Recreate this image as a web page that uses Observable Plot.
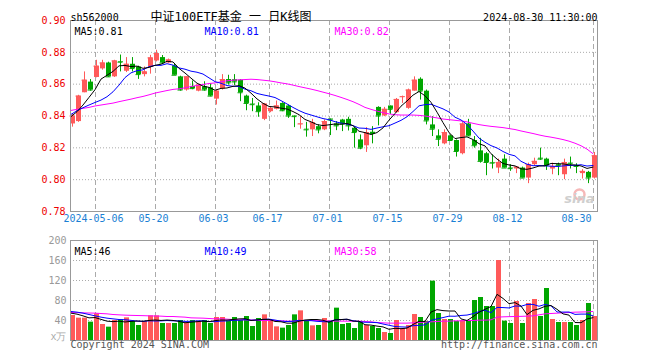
<!DOCTYPE html>
<html><head><meta charset="utf-8">
<script src="https://cdn.jsdelivr.net/npm/d3@7"></script>
<script src="https://cdn.jsdelivr.net/npm/@observablehq/plot@0.6"></script>
<style>
body{margin:0;background:#fff;}
#wrap{position:relative;width:660px;height:360px;overflow:hidden;background:#fff;}
#wrap svg{position:absolute;left:0;}
</style></head><body><div id="wrap"></div>
<script>
const dates = ["04-25","04-26","04-29","04-30",
"05-06","05-07","05-08","05-09","05-10","05-13","05-14","05-15","05-16","05-17",
"05-20","05-21","05-22","05-23","05-24","05-27","05-28","05-29","05-30","05-31",
"06-03","06-04","06-05","06-06","06-07","06-11","06-12","06-13","06-14",
"06-17","06-18","06-19","06-20","06-21","06-24","06-25","06-26","06-27","06-28",
"07-01","07-02","07-03","07-04","07-05","07-08","07-09","07-10","07-11","07-12",
"07-15","07-16","07-17","07-18","07-19","07-22","07-23","07-24","07-25","07-26",
"07-29","07-30","07-31","08-01","08-02","08-05","08-06","08-07","08-08","08-09",
"08-12","08-13","08-14","08-15","08-16","08-19","08-20","08-21","08-22","08-23",
"08-26","08-27","08-28","08-29","08-30"];
const open = [0.835,0.8365,0.8546,0.8613,0.8642,0.8696,0.8733,0.8646,0.8742,0.8681,
0.8725,0.8708,0.866,0.8706,0.8746,0.8767,0.8733,0.8715,0.8646,0.8563,
0.8586,0.8556,0.8583,0.8577,0.8506,0.8569,0.8629,0.8628,0.8625,0.8525,
0.8475,0.8463,0.8379,0.8427,0.8442,0.8479,0.8463,0.84,0.8346,0.8317,
0.8313,0.8333,0.8313,0.8381,0.835,0.8375,0.8379,0.8323,0.825,0.8213,
0.8298,0.8454,0.84,0.8463,0.8421,0.8517,0.8448,0.8556,0.8631,0.8556,
0.8344,0.8275,0.8225,0.8275,0.8246,0.8163,0.835,0.8246,0.8181,0.8163,
0.8108,0.8073,0.8129,0.8073,0.8067,0.8073,0.801,0.8094,0.8135,0.8129,
0.8067,0.8094,0.8031,0.8104,0.8088,0.8038,0.8046,0.801];
const high = [0.841,0.853,0.8677,0.8629,0.875,0.875,0.8738,0.875,0.8783,0.8767,
0.8767,0.8713,0.8708,0.8781,0.8813,0.878,0.8758,0.873,0.865,0.8646,
0.862,0.8598,0.8615,0.8604,0.8563,0.866,0.8656,0.866,0.8629,0.8531,
0.851,0.8483,0.8479,0.8454,0.8494,0.8483,0.8469,0.84,0.8396,0.836,
0.8379,0.8344,0.8375,0.8381,0.8365,0.8379,0.8392,0.8329,0.8281,0.8327,
0.8333,0.8458,0.8454,0.8463,0.851,0.8525,0.8569,0.8646,0.864,0.8563,
0.8396,0.8313,0.8313,0.8281,0.825,0.8358,0.8379,0.8271,0.826,0.8171,
0.8156,0.8129,0.8156,0.8094,0.8083,0.8079,0.8104,0.8135,0.8198,0.8135,
0.8104,0.8104,0.8129,0.8142,0.81,0.8063,0.8052,0.8171];
const low = [0.833,0.836,0.8546,0.8556,0.864,0.8688,0.8642,0.8642,0.8677,0.8673,
0.8677,0.863,0.8646,0.8663,0.874,0.8723,0.8729,0.8656,0.8556,0.8556,
0.8565,0.8552,0.8556,0.8521,0.8469,0.8563,0.8594,0.8592,0.849,0.8433,
0.8427,0.8392,0.8371,0.8421,0.8438,0.8427,0.8385,0.8327,0.8317,0.8267,
0.8271,0.8288,0.8308,0.8277,0.8308,0.8302,0.8306,0.8198,0.8188,0.8171,
0.8225,0.8338,0.8396,0.841,0.8417,0.8479,0.8442,0.8556,0.85,0.8344,
0.8271,0.8208,0.8219,0.824,0.8142,0.8156,0.8271,0.8198,0.8104,0.8025,
0.8067,0.8038,0.8073,0.8052,0.8038,0.801,0.7975,0.8083,0.8121,0.8058,
0.8031,0.8025,0.80,0.8067,0.8038,0.8004,0.7975,0.8004];
const close = [0.840,0.8525,0.8625,0.8563,0.8713,0.8733,0.8646,0.8746,0.8738,0.8725,
0.8698,0.866,0.8677,0.8765,0.8792,0.8733,0.8752,0.8656,0.8563,0.8646,
0.8572,0.8594,0.8563,0.8525,0.8556,0.8629,0.8608,0.8614,0.8546,0.8479,
0.8471,0.8427,0.8475,0.8448,0.8463,0.8433,0.84,0.8396,0.835,0.8313,
0.8358,0.8313,0.8365,0.8375,0.8338,0.835,0.8338,0.8296,0.8198,0.8296,
0.829,0.84,0.8442,0.8442,0.8504,0.8521,0.8563,0.8625,0.8556,0.8369,
0.8317,0.8254,0.8296,0.8246,0.8177,0.835,0.8275,0.8213,0.8115,0.8108,
0.8104,0.8108,0.8073,0.8069,0.8079,0.801,0.8094,0.8115,0.8129,0.8088,
0.8083,0.8088,0.8108,0.81,0.8083,0.8052,0.801,0.815];
const volume = [50,44.7,44.7,36.7,53.3,32,26.7,40,41.3,45.3,
38,30,38,49.3,49.3,34,34,34,40,35.3,
40,38.7,40,34,46,46,38,46,40,48,
28,44,51.3,40,27.3,24.7,30,51.3,59.3,40,
29.3,30,44,38.7,64.7,32,34,24,38,30,
28,24,16,14,40,24,30,52,46,38,
118.7,54,42,42,38,40,38,80,86,68,
68,160,38.7,34,78,34,74,82,48,104,
42,36,36,36,30,40,74,48];
// leading moving-average values (window not yet full)
const ma5Lead = [0.8396,0.8427,0.8469,0.8517];
const ma10Lead = [0.8410,0.8433,0.8452,0.8469,0.8485,0.8500,0.8521,0.8552,0.8594];
const ma30 = [0.8435,0.8442,0.8448,0.8454,0.8463,0.8469,0.8475,0.8481,0.8490,0.8498,
0.8506,0.8515,0.8523,0.8533,0.8544,0.8552,0.8560,0.8567,0.8571,0.8577,
0.8585,0.8592,0.8598,0.8604,0.8608,0.8615,0.8621,0.8625,0.8627,0.8629,
0.8631,0.8629,0.8625,0.8621,0.8615,0.8608,0.8602,0.8594,0.8585,0.8577,
0.8569,0.8560,0.8550,0.8540,0.8529,0.8517,0.8504,0.8490,0.8473,0.8454,
0.8442,0.8431,0.8421,0.8413,0.8408,0.8406,0.8406,0.8406,0.8404,
0.8400,0.8394,0.8388,0.8381,0.8377,0.8373,0.8369,0.8363,0.8354,0.8346,
0.8340,0.8335,0.8331,0.8327,0.8321,0.8315,0.8306,0.8298,0.8290,0.8281,
0.8273,0.8267,0.8260,0.8252,0.8242,0.8229,0.8213,0.8192,0.8163];
const vma5Lead = [54.7,52.7,49.3,45.3];
const vma10Lead = [58,56.7,54.7,52,49.3,46.7,44.7,43.3,42];
const vma30 = [56,55.7,55.3,55,54.7,54,53.3,52,51.3,50.7,
50.3,50,49.7,49.3,49,48.7,48,48,47.3,46.7,
45.3,45,44.7,44,43.3,43.3,42.7,42,41.3,41.3,
41,40.7,40,40,40,39.3,38.7,38.7,39.3,40,
40,40,39.7,39.3,38.7,38.7,38.7,38.7,38.7,38,
37.3,36,35.3,34.7,34.7,34.7,34.7,35.3,36,36.7,
37.3,38,38.7,38.7,39.3,39.3,40,40,40.7,40.7,
41.3,46.7,47.3,47.7,48,48.3,48.7,49.3,51.3,53.3,
54,54.7,55.3,56,56.7,57,57.3,58];
const priceTicks = [0.90,0.88,0.86,0.84,0.82,0.80,0.78];
const volTicks = [200,160,120,80,40];
const dateTicks = ["05-06","05-20","06-03","06-17","07-01","07-15","07-29","08-12","08-30"];
const dateTickLabels = ["2024-05-06","05-20","06-03","06-17","07-01","07-15","07-29","08-12","08-30"];
const code = "sh562000";
const title = "中证100ETF基金 一 日K线图";
const stamp = "2024-08-30 11:30:00";
const volUnit = "x万";
const copyright = "Copyright 2024 SINA.COM";
const url = "http://finance.sina.com.cn";

const UP = "#ff5a5a", DOWN = "#00a600";
const MONO = "DejaVu Sans Mono";
const GRID = "#aaaaaa";

function movingAvg(vals, n, lead) {
  return vals.map((v, i) => i < n - 1 ? lead[i] : d3.mean(vals.slice(i - n + 1, i + 1)));
}
const ma5 = movingAvg(close, 5, ma5Lead);
const ma10 = movingAvg(close, 10, ma10Lead);
const vma5 = movingAvg(volume, 5, vma5Lead);
const vma10 = movingAvg(volume, 10, vma10Lead);

const rows = dates.map((d, i) => ({
  date: d, open: open[i], high: high[i], low: low[i], close: close[i], vol: volume[i],
  color: close[i] >= open[i] ? UP : DOWN,
  ma5: ma5[i], ma10: ma10[i], ma30: ma30[i],
  vma5: vma5[i], vma10: vma10[i], vma30: vma30[i]
}));
const last = rows[rows.length - 1];
const tickRows = dateTicks.map((d, i) => ({date: d, label: dateTickLabels[i]}));

const xScale = {type: "band", domain: dates, range: [70, 598], paddingInner: 1/6, paddingOuter: 0, align: 0, axis: null};
const svgStyle = {fontFamily: MONO, fontSize: "10px", background: "transparent", overflow: "visible"};

const pricePlot = Plot.plot({
  width: 660, height: 230,
  marginLeft: 70, marginRight: 63, marginTop: 20, marginBottom: 19,
  style: svgStyle,
  x: xScale,
  y: {domain: [0.78, 0.90], axis: null},
  marks: [
    Plot.ruleY(priceTicks.slice(1, -1), {stroke: GRID, strokeDasharray: "1,2"}),
    Plot.ruleX(dateTicks, {x: d => d, stroke: GRID, strokeDasharray: "5,3", dx: -1.5}),
    Plot.ruleX(rows, {x: "date", y1: "low", y2: "high", stroke: "color", dx: -0.5}),
    Plot.barY(rows, {x: "date", y1: d => Math.min(d.open, d.close), y2: d => Math.max(d.open, d.close), fill: "color"}),
    Plot.tickY(rows, {x: "date", y: "close", stroke: "color", dx: -0.5}),
    Plot.line(rows, {x: "date", y: "ma30", stroke: "#ff00ff", strokeWidth: 1, dx: -2}),
    Plot.line(rows, {x: "date", y: "ma10", stroke: "#0000ff", strokeWidth: 1, dx: -2}),
    Plot.line(rows, {x: "date", y: "ma5", stroke: "#000000", strokeWidth: 1, dx: -2}),
    Plot.frame({stroke: "#999"}),
    Plot.text(priceTicks, {y: d => d, text: d => d.toFixed(2), frameAnchor: "left", textAnchor: "end", dx: -5, fill: "#ee0000", fontFamily: MONO, fontSize: 10}),
    Plot.text(tickRows.slice(0, -1), {x: "date", text: "label", frameAnchor: "bottom", dy: 10, dx: -3.5, fill: "#1a7fd4", fontFamily: MONO, fontSize: 10}),
    Plot.text(tickRows.slice(-1), {x: "date", text: "label", frameAnchor: "bottom", dy: 10, dx: -3.5, textAnchor: "end", fill: "#1a7fd4", fontFamily: MONO, fontSize: 10}),
    Plot.text([`MA5:${last.ma5.toFixed(2)}`], {frameAnchor: "top-left", dx: 4, dy: 7, textAnchor: "start", fill: "#000", fontFamily: MONO, fontSize: 10}),
    Plot.text([`MA10:${last.ma10.toFixed(2)}`], {frameAnchor: "top-left", dx: 134, dy: 7, textAnchor: "start", fill: "#0000ff", fontFamily: MONO, fontSize: 10}),
    Plot.text([`MA30:${last.ma30.toFixed(2)}`], {frameAnchor: "top-left", dx: 264, dy: 7, textAnchor: "start", fill: "#ff00ff", fontFamily: MONO, fontSize: 10}),
    Plot.text([code], {frameAnchor: "top-left", dy: -7, textAnchor: "start", fill: "#000", fontFamily: MONO, fontSize: 10}),
    Plot.text([title], {frameAnchor: "top-left", dx: 80, dy: -8, textAnchor: "start", fill: "#000", fontFamily: `${MONO}, Noto Sans CJK SC`, fontSize: 12}),
    Plot.text([stamp], {frameAnchor: "top-right", dy: -7, textAnchor: "end", fill: "#000", fontFamily: MONO, fontSize: 10}),
    Plot.dot([0], {frameAnchor: "bottom-right", dx: -18, dy: -17, r: 5, stroke: "#f6b8b8", strokeWidth: 2.5, fill: "none"}),
    Plot.text(["sina"], {frameAnchor: "bottom-right", dx: -3, dy: -9, textAnchor: "end", fill: "#cfcfcf", fontFamily: "DejaVu Sans", fontWeight: "bold", fontStyle: "italic", fontSize: 13})
  ]
});
pricePlot.style.top = "0px";

const volPlot = Plot.plot({
  width: 660, height: 130,
  marginLeft: 70, marginRight: 63, marginTop: 10, marginBottom: 20,
  style: svgStyle,
  x: xScale,
  y: {domain: [0, 200], axis: null},
  marks: [
    Plot.ruleY(volTicks.slice(1), {stroke: GRID, strokeDasharray: "1,2"}),
    Plot.ruleX(dateTicks, {x: d => d, stroke: GRID, strokeDasharray: "5,3", dx: -1.5}),
    Plot.barY(rows, {x: "date", y: "vol", fill: "color"}),
    Plot.line(rows, {x: "date", y: "vma30", stroke: "#ff00ff", strokeWidth: 1, dx: -2}),
    Plot.line(rows, {x: "date", y: "vma10", stroke: "#0000ff", strokeWidth: 1, dx: -2}),
    Plot.line(rows, {x: "date", y: "vma5", stroke: "#000000", strokeWidth: 1, dx: -2}),
    Plot.frame({stroke: "#999"}),
    Plot.text(volTicks, {y: d => d, text: d => String(d), frameAnchor: "left", textAnchor: "end", dx: -4, fill: "#999", fontFamily: MONO, fontSize: 10}),
    Plot.text([volUnit], {frameAnchor: "bottom-left", textAnchor: "end", dx: -4, dy: -1, fill: "#aaa", fontFamily: MONO, fontSize: 10}),
    Plot.text([`MA5:${Math.round(last.vma5)}`], {frameAnchor: "top-left", dx: 4, dy: 7, textAnchor: "start", fill: "#000", fontFamily: MONO, fontSize: 10}),
    Plot.text([`MA10:${Math.round(last.vma10)}`], {frameAnchor: "top-left", dx: 134, dy: 7, textAnchor: "start", fill: "#0000ff", fontFamily: MONO, fontSize: 10}),
    Plot.text([`MA30:${Math.round(last.vma30)}`], {frameAnchor: "top-left", dx: 264, dy: 7, textAnchor: "start", fill: "#ff00ff", fontFamily: MONO, fontSize: 10}),
    Plot.text([copyright], {frameAnchor: "bottom-left", dy: 7, textAnchor: "start", fill: "#555", fontFamily: MONO, fontSize: 10}),
    Plot.text([url], {frameAnchor: "bottom-right", dy: 7, textAnchor: "end", fill: "#555", fontFamily: MONO, fontSize: 10})
  ]
});
volPlot.style.top = "230px";

const wrap = document.getElementById("wrap");
wrap.appendChild(pricePlot);
wrap.appendChild(volPlot);
</script></body></html>
